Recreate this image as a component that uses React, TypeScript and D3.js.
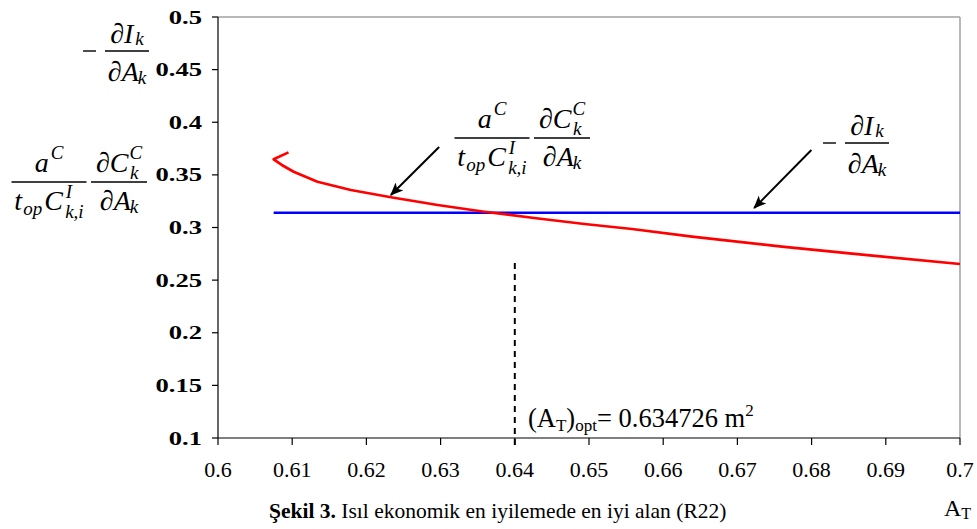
import React from 'react';
import * as d3 from 'd3';

const W = 977;
const H = 529;

const xTicks = [0.6, 0.61, 0.62, 0.63, 0.64, 0.65, 0.66, 0.67, 0.68, 0.69, 0.7];
const xTickLabels = ['0.6', '0.61', '0.62', '0.63', '0.64', '0.65', '0.66', '0.67', '0.68', '0.69', '0.7'];
const yTicks = [0.1, 0.15, 0.2, 0.25, 0.3, 0.35, 0.4, 0.45, 0.5];
const yTickLabels = ['0.1', '0.15', '0.2', '0.25', '0.3', '0.35', '0.4', '0.45', '0.5'];

// red curve: a^C/(t_op C^I) dC/dA
const redX = [0.6095, 0.6075, 0.6086, 0.6102, 0.6134, 0.6179, 0.6233, 0.6296, 0.6359, 0.6426, 0.6494, 0.6558, 0.6639, 0.676, 0.6882, 0.7];
const redY = [0.3714, 0.3648, 0.3594, 0.353, 0.3435, 0.3356, 0.3287, 0.3214, 0.315, 0.309, 0.3033, 0.2986, 0.2913, 0.2818, 0.2732, 0.2653];

// blue line: -dI/dA
const blueX = [0.6075, 0.7];
const blueY = [0.314, 0.314];

// optimum marker
const optX = 0.64;
const optYRange = [0.0886, 0.2663];
const optValue = '0.634726';

// arrows [tailX, tailY, tipX, tipY]
const arrow1 = [0.6298, 0.3765, 0.6233, 0.3309];
const arrow2 = [0.67997, 0.3736, 0.67226, 0.3185];

const SERIF = '"Liberation Serif", "Times New Roman", serif';

const x = d3.scaleLinear().domain([0.6, 0.7]).range([218, 960]);
const y = d3.scaleLinear().domain([0.1, 0.5]).range([438, 17]);

const FS = 28;
const SS = 19;

function Frac({ cx, barY, width, num, den, numOff = 10, denOff = 28 }: { cx: number; barY: number; width: number; num: React.ReactNode; den: React.ReactNode; numOff?: number; denOff?: number }) {
  return (
    <g>
      <line x1={cx - width / 2} x2={cx + width / 2} y1={barY} y2={barY} stroke="#000" strokeWidth={1.3} />
      <text x={cx} y={barY - numOff} textAnchor="middle" fontFamily={SERIF} fontStyle="italic" fontSize={FS}>{num}</text>
      <text x={cx} y={barY + denOff} textAnchor="middle" fontFamily={SERIF} fontStyle="italic" fontSize={FS}>{den}</text>
    </g>
  );
}

const numDI = (
  <>
    <tspan fontStyle="normal">∂</tspan>
    <tspan>I</tspan>
    <tspan fontSize={SS} dx={2} dy={2}>k</tspan>
  </>
);
const denDA = (
  <>
    <tspan fontStyle="normal">∂</tspan>
    <tspan>A</tspan>
    <tspan fontSize={SS} dx={-1} dy={3}>k</tspan>
  </>
);
const numA = (
  <>
    <tspan>a</tspan>
    <tspan fontSize={SS} dx={2} dy={-13}>C</tspan>
  </>
);
const denT = (
  <>
    <tspan>t</tspan>
    <tspan fontSize={SS} dx={1} dy={5}>op</tspan>
    <tspan dx={2} dy={-5}>C</tspan>
    <tspan fontSize={SS} dx={3} dy={-12}>I</tspan>
    <tspan fontSize={SS} dx={-7} dy={20}>k,i</tspan>
  </>
);
const numDC = (
  <>
    <tspan fontStyle="normal">∂</tspan>
    <tspan>C</tspan>
    <tspan fontSize={SS} dx={1} dy={-13}>C</tspan>
    <tspan fontSize={SS} dx={-12} dy={20}>k</tspan>
  </>
);

function MinusDIDA({ barX, barY }: { barX: number; barY: number }) {
  return (
    <g>
      <line x1={barX - 22} x2={barX - 9} y1={barY} y2={barY} stroke="#000" strokeWidth={1.4} />
      <Frac cx={barX + 22} barY={barY} width={44} num={numDI} den={denDA} numOff={8} denOff={30} />
    </g>
  );
}

function CostFrac({ left, barY }: { left: number; barY: number }) {
  return (
    <g>
      <Frac cx={left + 37} barY={barY} width={75} num={numA} den={denT} />
      <Frac cx={left + 107} barY={barY} width={56} num={numDC} den={denDA} />
    </g>
  );
}

function Arrow({ a }: { a: number[] }) {
  return (
    <line x1={x(a[0])} y1={y(a[1])} x2={x(a[2])} y2={y(a[3])} stroke="#000" strokeWidth={2} markerEnd="url(#ah)" />
  );
}

export default function App() {
  const redPath = d3.line<number>()
    .x((d, i) => x(redX[i]))
    .y((d, i) => y(redY[i]))(redX) || '';
  const bluePath = d3.line<number>()
    .x((d, i) => x(blueX[i]))
    .y((d, i) => y(blueY[i]))(blueX) || '';

  return (
    <svg width={W} height={H} style={{ position: 'absolute', left: 0, top: 0, background: '#fff' }}>
      <defs>
        <marker id="ah" viewBox="0 0 12 10" refX={11} refY={5} markerWidth={14} markerHeight={11} markerUnits="userSpaceOnUse" orient="auto">
          <path d="M0,0 L12,5 L0,10 L3,5 z" fill="#000" />
        </marker>
      </defs>
      <rect x={0} y={0} width={W} height={H} fill="#fff" />

      {/* plot frame */}
      <line x1={x(0.6)} x2={x(0.7)} y1={y(0.5)} y2={y(0.5)} stroke="#a0a0a0" strokeWidth={1.5} />
      <line x1={x(0.7)} x2={x(0.7)} y1={y(0.5)} y2={y(0.1)} stroke="#a0a0a0" strokeWidth={1.5} />
      <line x1={x(0.6)} x2={x(0.6)} y1={y(0.5)} y2={y(0.1)} stroke="#000" strokeWidth={1.2} />
      <line x1={x(0.6)} x2={x(0.7)} y1={y(0.1)} y2={y(0.1)} stroke="#000" strokeWidth={1.2} />

      {/* y ticks */}
      {yTicks.map((t, i) => (
        <g key={'y' + i}>
          <line x1={x(0.6) - 6} x2={x(0.6)} y1={y(t)} y2={y(t)} stroke="#000" strokeWidth={1.2} />
          <text transform={`translate(${x(0.6) - 16},${y(t) + 6.5}) scale(1.4,1)`} textAnchor="end" fontFamily={SERIF} fontWeight="bold" fontSize={19}>{yTickLabels[i]}</text>
        </g>
      ))}
      {/* x ticks */}
      {xTicks.map((t, i) => (
        <g key={'x' + i}>
          <line x1={x(t)} x2={x(t)} y1={y(0.1)} y2={y(0.1) + 7} stroke="#000" strokeWidth={1.2} />
          <text x={x(t)} y={477} textAnchor="middle" fontFamily={SERIF} fontSize={22}>{xTickLabels[i]}</text>
        </g>
      ))}

      {/* optimum dashed line */}
      <line x1={x(optX)} x2={x(optX)} y1={y(optYRange[1])} y2={y(optYRange[0])} stroke="#000" strokeWidth={2} strokeDasharray="6,5" />

      {/* series */}
      <path d={bluePath} fill="none" stroke="#0000ff" strokeWidth={2.6} />
      <path d={redPath} fill="none" stroke="#ff0000" strokeWidth={2.7} strokeLinejoin="round" />

      {/* arrows */}
      <Arrow a={arrow1} />
      <Arrow a={arrow2} />

      {/* annotations */}
      <CostFrac left={455} barY={138} />
      <MinusDIDA barX={845} barY={143} />

      <MinusDIDA barX={105} barY={51} />
      <CostFrac left={12} barY={182} />

      <text x={528} y={427} fontFamily={SERIF} fontSize={26.5}>
        <tspan>(A</tspan>
        <tspan fontSize={17} dy={4}>T</tspan>
        <tspan dy={-4}>)</tspan>
        <tspan fontSize={17} dy={4}>opt</tspan>
        <tspan dy={-4}>= {optValue} m</tspan>
        <tspan fontSize={17} dy={-11}>2</tspan>
      </text>

      <text x={944} y={516} fontFamily={SERIF} fontSize={24}>
        <tspan>A</tspan>
        <tspan fontSize={16} dy={3}>T</tspan>
      </text>

      <text x={269} y={518} fontFamily={SERIF} fontSize={21.5}>
        <tspan fontWeight="bold">Şekil 3.</tspan>
        <tspan> Isıl ekonomik en iyilemede en iyi alan (R22)</tspan>
      </text>
    </svg>
  );
}
